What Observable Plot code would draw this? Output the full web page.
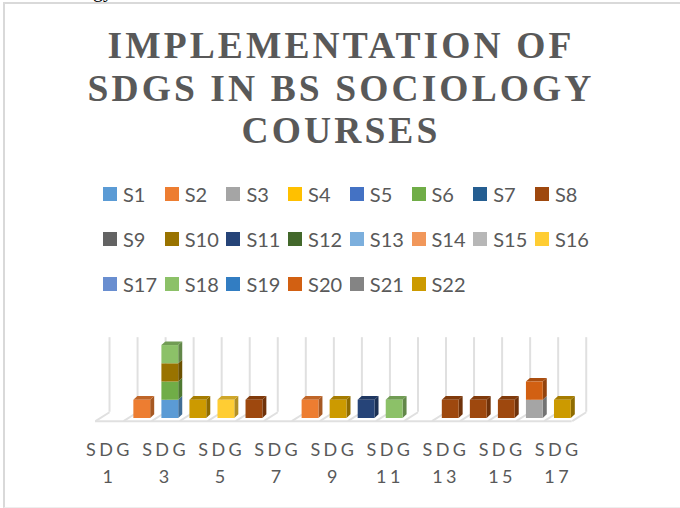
<!DOCTYPE html>
<html><head><meta charset="utf-8">
<script src="https://cdn.jsdelivr.net/npm/d3@7"></script>
<script src="https://cdn.jsdelivr.net/npm/@observablehq/plot@0.6"></script>
<style>
html,body{margin:0;padding:0;background:#fff;overflow:hidden}
#page{position:relative;width:680px;height:508px;overflow:hidden}
#frame{position:absolute;left:3px;top:2px;width:700px;height:506px;border-left:2px solid #d9d9d9;border-top:2px solid #d9d9d9;border-bottom:1px solid #eeeeee;box-sizing:border-box}
#cut{position:absolute;left:83px;top:-21px;font:20px "Liberation Serif";color:#000}
#title{position:absolute;left:1px;top:25px;width:680px;text-align:center;font:bold 37.5px/42.5px "Liberation Serif";letter-spacing:3.1px;color:#595959}
.leg{position:absolute;font:20px/24px Lato;color:#595959;white-space:nowrap}
.sw{position:absolute;width:14px;height:14px}
#chart{position:absolute;left:0;top:310px}
.xa text{letter-spacing:3.4px}
</style></head><body>
<div id="page"><div id="frame"></div><div id="cut">ogy</div>
<div id="title">IMPLEMENTATION OF<br>SDGS IN BS SOCIOLOGY<br>COURSES</div>
<div id="chart"></div></div>
<script>
const seriesNames=["S1","S2","S3","S4","S5","S6","S7","S8","S9","S10","S11","S12","S13","S14","S15","S16","S17","S18","S19","S20","S21","S22"];
const seriesColors=["#5b9bd5","#ed7d31","#a5a5a5","#ffc000","#4472c4","#70ad47","#255e91","#9e480e","#636363","#997300","#264478","#43682b","#7cafdd","#f1975a","#b7b7b7","#ffcd33","#698ed0","#8cc168","#327dc2","#d26012","#848484","#cc9a00"];
const barSdg=[2,3,3,3,3,4,5,6,8,9,10,11,13,14,15,16,16,17];
const barSeries=["S2","S1","S6","S10","S18","S22","S16","S8","S2","S22","S11","S18","S8","S8","S8","S3","S20","S22"];
const barValue=[1,1,1,1,1,1,1,1,1,1,1,1,1,1,1,1,1,1];
const sdgNumbers=[1,2,3,4,5,6,7,8,9,10,11,12,13,14,15,16,17];
const oddTicks=sdgNumbers.filter(d=>d%2);
const wallMax=4.09;

const colorOf=Object.fromEntries(seriesNames.map((s,i)=>[s,seriesColors[i]]));
const page=document.getElementById("page");
seriesNames.forEach((s,i)=>{
  const col=i%8,row=Math.floor(i/8);
  const sw=document.createElement("div");sw.className="sw";sw.style.background=seriesColors[i];
  sw.style.left=(103+61.7*col)+"px";sw.style.top=(187+45*row)+"px";page.appendChild(sw);
  const t=document.createElement("div");t.className="leg";t.textContent=s;
  t.style.left=(123+61.7*col)+"px";t.style.top=(181.5+45*row)+"px";page.appendChild(t);
});

// perspective offsets expressed in data units
const wallDx=0.5, wallDy=0.49;      // floor depth
const barDx=0.168, barDy=0.148;     // where a bar stands on the floor
const barHalf=0.3, capDx=0.143, capDy=0.2;
const shade=(c,k)=>d3.rgb(c).darker(k).formatHex();

let base={};
const boxes=barSdg.map((x,i)=>{
  const y1=base[x]||0,y2=y1+barValue[i];base[x]=y2;
  return {x,stackTop:y2,l:x+barDx-barHalf,r:x+barDx+barHalf,b:y1+barDy,t:y2+barDy,color:colorOf[barSeries[i]],id:i};
});
const side=boxes.flatMap(d=>[{...d,px:d.r,y1:d.b,y2:d.t},{...d,px:d.r+capDx,y1:d.b+capDy,y2:d.t+capDy}]);
const tops=boxes.filter(d=>d.stackTop===base[d.x]).flatMap(d=>[{...d,py:d.t,x1:d.l,x2:d.r},{...d,py:d.t+capDy,x1:d.l+capDx,x2:d.r+capDx}]);
const bounds=d3.range(0,18).map(k=>k+0.5);

const plot=Plot.plot({
  width:680,height:198,
  marginLeft:95,marginRight:108.3,marginTop:0,marginBottom:87.3,
  x:{domain:[0.5,17.5],axis:null},
  y:{domain:[0,6.07],axis:null},
  color:{type:"identity"},
  style:{background:"transparent"},
  marks:[
    Plot.ruleX(bounds,{x:d=>d+wallDx,y1:wallDy,y2:wallMax+wallDy,stroke:"#e0e0e0",strokeWidth:2}),
    Plot.link(bounds,{x1:d=>d,y1:0,x2:d=>d+wallDx,y2:wallDy,stroke:"#e0e0e0",strokeWidth:2}),
    Plot.ruleY([0],{x1:0.5,x2:17.5,stroke:"#e0e0e0",strokeWidth:2}),
    Plot.areaY(side,{x:"px",y1:"y1",y2:"y2",z:"id",fill:d=>shade(d.color,1.0)}),
    Plot.areaX(tops,{y:"py",x1:"x1",x2:"x2",z:"id",fill:d=>shade(d.color,0.6)}),
    Plot.rect(boxes,{x1:"l",x2:"r",y1:"b",y2:"t",fill:"color",inset:0}),
    Plot.axisX({ticks:oddTicks,tickSize:0,tickPadding:16,tickFormat:d=>`SDG\n${d}`,fontSize:18,lineHeight:1.5,fill:"#595959",fontFamily:"Lato",className:"xa",anchor:"bottom"})
  ]
});
document.getElementById("chart").appendChild(plot);
</script></body></html>
